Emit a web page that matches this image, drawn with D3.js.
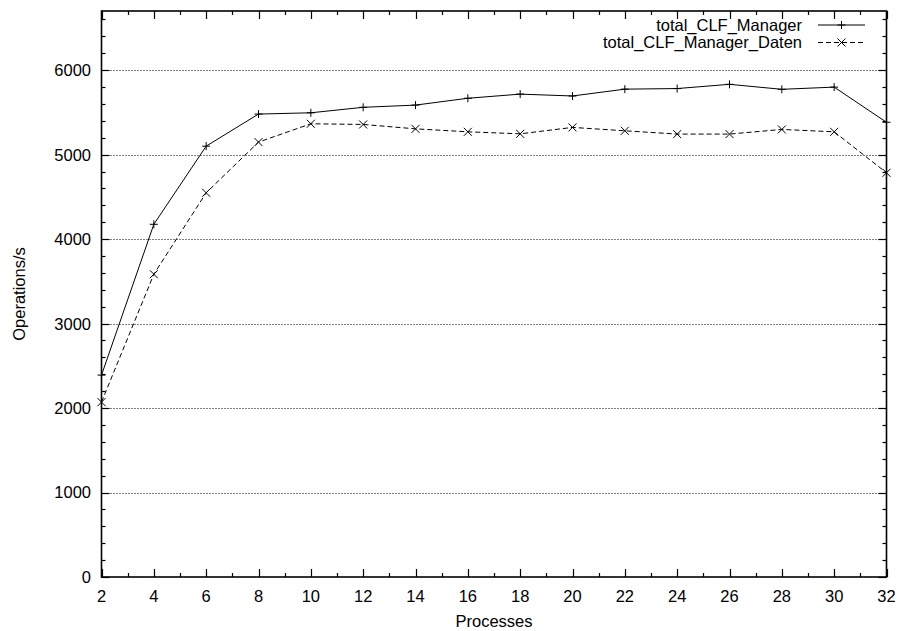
<!DOCTYPE html>
<html>
  <head>
    <title>total_CLF_Manager</title>
    <meta charset="utf-8" />
    <script src="https://d3js.org/d3.v7.min.js"></script>
    <style>
      body { margin: 0; background: #fff; }
      text { font-family: "Liberation Sans", Arial, sans-serif; font-size: 16.5px; fill: #000; }
    </style>
  </head>
  <body>
    <svg id="chart" width="899" height="631"></svg>

    <script>
      // Datos
      const processes = [2, 4, 6, 8, 10, 12, 14, 16, 18, 20, 22, 24, 26, 28, 30, 32];
      const managerOps = [2390, 4175, 5100, 5480, 5495, 5560, 5586, 5667, 5716, 5694, 5775, 5782, 5832, 5773, 5799, 5383];
      const datenOps = [2070, 3584, 4548, 5148, 5365, 5357, 5305, 5270, 5246, 5322, 5282, 5243, 5243, 5298, 5270, 4785];
      const seriesNames = ["total_CLF_Manager", "total_CLF_Manager_Daten"];
      const yTicks = [0, 1000, 2000, 3000, 4000, 5000, 6000];
      const xTicks = [2, 4, 6, 8, 10, 12, 14, 16, 18, 20, 22, 24, 26, 28, 30, 32];

      const svg = d3.select("#chart");
      const plotLeft = 101.5, plotRight = 886.5, plotTop = 11, plotBottom = 577;

      // Escalas
      const x = d3.scaleLinear().domain([2, 32]).range([plotLeft, plotRight]);
      const y = d3.scaleLinear().domain([0, 6700]).range([plotBottom, plotTop]);

      // Rejilla punteada horizontal
      svg.append("g")
        .selectAll("line")
        .data(yTicks.filter((d) => d > 0))
        .enter()
        .append("line")
        .attr("x1", plotLeft)
        .attr("x2", plotRight)
        .attr("y1", (d) => Math.round(y(d)) + 0.5)
        .attr("y2", (d) => Math.round(y(d)) + 0.5)
        .style("stroke", "#000")
        .style("stroke-width", 1)
        .style("stroke-dasharray", "1,2");

      // Marcas de los ejes (en los cuatro lados)
      const ticks = svg.append("g").style("stroke", "#000").style("stroke-width", 1.2);
      d3.range(0, 6701, 200).forEach((v) => {
        const len = v % 1000 === 0 ? 8 : 4;
        const yy = Math.round(y(v)) + 0.5;
        ticks.append("line").attr("x1", plotLeft).attr("x2", plotLeft + len).attr("y1", yy).attr("y2", yy);
        ticks.append("line").attr("x1", plotRight).attr("x2", plotRight - len).attr("y1", yy).attr("y2", yy);
      });
      d3.range(2, 33).forEach((v) => {
        const len = v % 2 === 0 ? 8 : 4;
        const xx = Math.round(x(v)) + 0.5;
        ticks.append("line").attr("x1", xx).attr("x2", xx).attr("y1", plotBottom).attr("y2", plotBottom - len);
        ticks.append("line").attr("x1", xx).attr("x2", xx).attr("y1", plotTop).attr("y2", plotTop + len);
      });

      // Borde
      svg.append("rect")
        .attr("x", plotLeft)
        .attr("y", plotTop)
        .attr("width", plotRight - plotLeft)
        .attr("height", plotBottom - plotTop)
        .style("fill", "none")
        .style("stroke", "#000")
        .style("stroke-width", 1.6);

      // Etiquetas de los ejes
      svg.append("g")
        .selectAll("text")
        .data(yTicks)
        .enter()
        .append("text")
        .attr("x", 91)
        .attr("y", (d) => y(d))
        .attr("dy", "0.36em")
        .attr("text-anchor", "end")
        .text((d) => d);

      svg.append("g")
        .selectAll("text")
        .data(xTicks)
        .enter()
        .append("text")
        .attr("x", (d) => x(d))
        .attr("y", 602)
        .attr("text-anchor", "middle")
        .text((d) => d);

      svg.append("text")
        .attr("x", (plotLeft + plotRight) / 2)
        .attr("y", 627)
        .attr("text-anchor", "middle")
        .text("Processes");

      svg.append("text")
        .attr("transform", `translate(25,${(plotTop + plotBottom) / 2}) rotate(-90)`)
        .attr("text-anchor", "middle")
        .text("Operations/s");

      // Series
      const series = [
        { name: seriesNames[0], values: managerOps, dash: null, marker: "plus" },
        { name: seriesNames[1], values: datenOps, dash: "5,3", marker: "cross" },
      ];

      const line = d3.line()
        .x((d) => x(d[0]))
        .y((d) => y(d[1]));

      function drawMarker(g, type, cx, cy) {
        const s = 4;
        const p = type === "plus"
          ? `M${cx - s},${cy}L${cx + s},${cy}M${cx},${cy - s}L${cx},${cy + s}`
          : `M${cx - s},${cy - s}L${cx + s},${cy + s}M${cx - s},${cy + s}L${cx + s},${cy - s}`;
        g.append("path").attr("d", p).style("stroke", "#000").style("stroke-width", 1).style("fill", "none");
      }

      series.forEach((s, i) => {
        const pts = processes.map((p, j) => [p, s.values[j]]);
        svg.append("path")
          .datum(pts)
          .attr("d", line)
          .style("fill", "none")
          .style("stroke", "#000")
          .style("stroke-width", 1)
          .style("stroke-dasharray", s.dash);
        const g = svg.append("g");
        pts.forEach((d) => drawMarker(g, s.marker, x(d[0]), y(d[1])));

        // Leyenda
        const ly = 25 + i * 17.5;
        svg.append("text")
          .attr("x", 802)
          .attr("y", ly)
          .attr("dy", "0.36em")
          .attr("text-anchor", "end")
          .text(s.name);
        svg.append("line")
          .attr("x1", 818)
          .attr("x2", 865)
          .attr("y1", ly)
          .attr("y2", ly)
          .style("stroke", "#000")
          .style("stroke-width", 1)
          .style("stroke-dasharray", s.dash);
        drawMarker(g, s.marker, 841.5, ly);
      });
    </script>
  </body>
</html>
